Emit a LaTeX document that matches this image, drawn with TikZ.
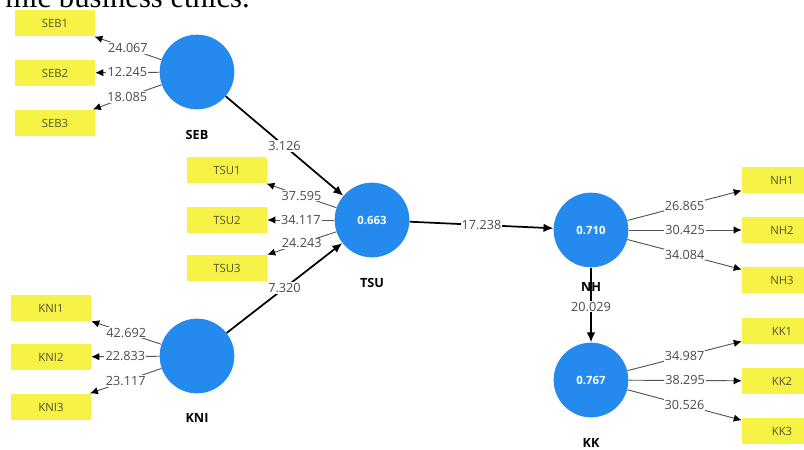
\documentclass[tikz,border=0pt]{standalone}
\usepackage{fontspec}
\setmainfont{Liberation Serif}
\setsansfont{Open Sans}
\usetikzlibrary{arrows.meta}
\definecolor{lvblue}{RGB}{36,138,238}
\definecolor{indyellow}{RGB}{246,242,70}
\definecolor{indtext}{RGB}{85,85,45}
\definecolor{numgray}{RGB}{75,75,75}
\definecolor{linegray}{RGB}{85,85,85}

\begin{document}
\begin{tikzpicture}[x=0.75pt,y=-0.75pt,every node/.style={font=\sffamily},
lv/.style={circle,fill=lvblue,minimum size=56pt,inner sep=0pt,text=white,font=\sffamily\bfseries\fontsize{8.5}{10}\selectfont},
ind/.style={fill=indyellow,minimum width=60pt,minimum height=20pt,inner sep=0pt,text=indtext,font=\sffamily\fontsize{8.5}{10}\selectfont},
lvname/.style={font=\sffamily\bfseries\fontsize{9.5}{11}\selectfont},
load/.style={-{Latex[length=6pt,width=5.5pt,color=black]},draw=linegray,line width=0.7pt},
struct/.style={-{Latex[length=7.5pt,width=6.5pt]},line width=1.3pt},
val/.style={fill=white,inner sep=0.8pt,text=numgray,font=\sffamily\fontsize{9.5}{11}\selectfont}]
\useasboundingbox (0,0) rectangle (804,450);
\clip (0,0) rectangle (804,450);
\node[anchor=base east,inner sep=0pt,font=\rmfamily\fontsize{23}{27}\selectfont] (caption) at (250,7) {mic business ethics.};
% latent variables
\node[lv] (SEB) at (197,72) {};
\node[lv] (TSU) at (372,220) {0.663};
\node[lv] (KNI) at (197,356) {};
\node[lv] (NH) at (591,230) {0.710};
\node[lv] (KK) at (591,380) {0.767};
\node[lvname] (SEBname) at (197,135) {SEB};
\node[lvname] (TSUname) at (372,283) {TSU};
\node[lvname] (KNIname) at (197,418) {KNI};
\node[lvname] (KKname) at (591,443) {KK};
% indicators
\node[ind] (SEB1) at (55,23) {SEB1};
\node[ind] (SEB2) at (55,73) {SEB2};
\node[ind] (SEB3) at (55,123) {SEB3};
\node[ind] (TSU1) at (227,170) {TSU1};
\node[ind] (TSU2) at (227,220) {TSU2};
\node[ind] (TSU3) at (227,268) {TSU3};
\node[ind] (KNI1) at (51,308) {KNI1};
\node[ind] (KNI2) at (51,357) {KNI2};
\node[ind] (KNI3) at (51,407) {KNI3};
\node[ind] (NH1) at (782,180) {NH1};
\node[ind] (NH2) at (782,230) {NH2};
\node[ind] (NH3) at (782,280) {NH3};
\node[ind] (KK1) at (782,331) {KK1};
\node[ind] (KK2) at (782,381) {KK2};
\node[ind] (KK3) at (782,431) {KK3};
% outer loadings
\draw[load] (SEB) -- node[val] {24.067} (SEB1);
\draw[load] (SEB) -- node[val] {12.245} (SEB2);
\draw[load] (SEB) -- node[val] {18.085} (SEB3);
\draw[load] (TSU) -- node[val] {37.595} (TSU1);
\draw[load] (TSU) -- node[val] {34.117} (TSU2);
\draw[load] (TSU) -- node[val] {24.243} (TSU3);
\draw[load] (KNI) -- node[val] {42.692} (KNI1);
\draw[load] (KNI) -- node[val] {22.833} (KNI2);
\draw[load] (KNI) -- node[val] {23.117} (KNI3);
\draw[load] (NH) -- node[val] {26.865} (NH1);
\draw[load] (NH) -- node[val] {30.425} (NH2);
\draw[load] (NH) -- node[val] {34.084} (NH3);
\draw[load] (KK) -- node[val] {34.987} (KK1);
\draw[load] (KK) -- node[val] {38.295} (KK2);
\draw[load] (KK) -- node[val] {30.526} (KK3);
% inner model
\draw[struct] (SEB) -- node[val] {3.126} (TSU);
\draw[struct] (KNI) -- node[val] {7.320} (TSU);
\draw[struct] (TSU) -- node[val] {17.238} (NH);
\draw[struct] (NH) -- node[val,pos=0.52] {20.029} (KK);
\node[lvname] (NHname) at (591,287) {NH};
\end{tikzpicture}
\end{document}
